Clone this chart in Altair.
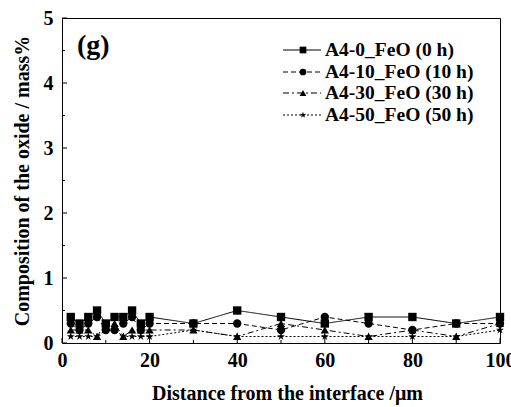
import altair as alt
import pandas as pd

# ---- data ----
distance = [2, 4, 6, 8, 10, 12, 14, 16, 18, 20, 30, 40, 50, 60, 70, 80, 90, 100]
series_names = ["A4-0_FeO (0 h)", "A4-10_FeO (10 h)", "A4-30_FeO (30 h)", "A4-50_FeO (50 h)"]
feo_0h = [0.4, 0.3, 0.4, 0.5, 0.3, 0.4, 0.4, 0.5, 0.3, 0.4, 0.3, 0.5, 0.4, 0.3, 0.4, 0.4, 0.3, 0.4]
feo_10h = [0.3, 0.2, 0.3, 0.4, 0.2, 0.2, 0.3, 0.4, 0.2, 0.3, 0.3, 0.3, 0.2, 0.4, 0.3, 0.2, 0.3, 0.3]
feo_30h = [0.2, 0.2, 0.2, 0.1, 0.3, 0.3, 0.1, 0.2, 0.2, 0.2, 0.2, 0.1, 0.3, 0.2, 0.1, 0.2, 0.1, 0.3]
feo_50h = [0.1, 0.1, 0.1, 0.1, 0.2, 0.2, 0.1, 0.1, 0.1, 0.1, 0.2, 0.1, 0.1, 0.1, 0.1, 0.1, 0.1, 0.2]
x_ticks_major = [0, 20, 40, 60, 80, 100]
x_ticks_minor = [10, 30, 50, 70, 90]
y_ticks_major = [0, 1, 2, 3, 4, 5]
y_ticks_minor = [0.5, 1.5, 2.5, 3.5, 4.5]
panel_label = "(g)"
x_title = "Distance from the interface /\u03bcm"
y_title = "Composition of the oxide / mass%"

# ---- styles ----
W, H = 438, 325
FONT = "Liberation Serif"
STAR = ("M0,-1L0.2245,-0.309L0.951,-0.309L0.363,0.118L0.588,0.809L0,0.382"
        "L-0.588,0.809L-0.363,0.118L-0.951,-0.309L-0.2245,-0.309Z")
shapes = ["square", "circle", "triangle-up", STAR]
dashes = [[1, 0], [5, 3], [6, 3, 2, 3], [2, 2]]

rows = []
for name, vals in zip(series_names, [feo_0h, feo_10h, feo_30h, feo_50h]):
    for d, v in zip(distance, vals):
        rows.append({"distance": d, "value": v, "series": name})
df = pd.DataFrame(rows)

xscale = alt.Scale(domain=[0, 100], nice=False, zero=False)
yscale = alt.Scale(domain=[0, 5], nice=False, zero=False)

xaxis = alt.Axis(values=x_ticks_major, ticks=False, domain=False, grid=False, format="d",
                 labelFont=FONT, labelFontSize=20, labelFontWeight="bold", labelColor="black",
                 labelPadding=7, labelFlush=False, title=x_title, titleFont=FONT,
                 titleFontSize=20, titleFontWeight="bold", titleColor="black", titlePadding=13,
                 titleX=225)
yaxis = alt.Axis(values=y_ticks_major, ticks=False, domain=False, grid=False, format="d",
                 labelFont=FONT, labelFontSize=20, labelFontWeight="bold", labelColor="black",
                 labelPadding=9, labelFlush=False, title=y_title, titleFont=FONT,
                 titleFontSize=20, titleFontWeight="bold", titleColor="black", titlePadding=11)

lines = alt.Chart(df).mark_line(color="black", strokeWidth=1).encode(
    x=alt.X("distance:Q", scale=xscale, axis=xaxis),
    y=alt.Y("value:Q", scale=yscale, axis=yaxis),
    strokeDash=alt.StrokeDash("series:N", scale=alt.Scale(domain=series_names, range=dashes), legend=None),
    detail="series:N",
)
points = alt.Chart(df).mark_point(filled=True, color="black", opacity=1, size=70).encode(
    x=alt.X("distance:Q", scale=xscale),
    y=alt.Y("value:Q", scale=yscale),
    shape=alt.Shape("series:N", scale=alt.Scale(domain=series_names, range=shapes), legend=None),
)

def xticks(vals, length):
    return alt.Chart(pd.DataFrame({"t": vals})).mark_rule(color="black", strokeWidth=1).encode(
        x=alt.X("t:Q", scale=xscale), y=alt.value(H), y2=alt.value(H - length))

def yticks(vals, length):
    return alt.Chart(pd.DataFrame({"t": vals})).mark_rule(color="black", strokeWidth=1).encode(
        y=alt.Y("t:Q", scale=yscale), x=alt.value(0), x2=alt.value(length))

label = alt.Chart(pd.DataFrame({"t": [panel_label]})).mark_text(
    font=FONT, fontSize=28, fontWeight="bold", align="left", baseline="middle", color="black"
).encode(x=alt.value(15), y=alt.value(28), text="t:N")

layers = [lines, points, xticks(x_ticks_major, 5), xticks(x_ticks_minor, 3),
          yticks(y_ticks_major, 5), yticks(y_ticks_minor, 3), label]

leg_y = [32, 54, 75, 97]
for i, name in enumerate(series_names):
    d1 = pd.DataFrame({"name": [name]})
    layers.append(alt.Chart(d1).mark_rule(color="black", strokeWidth=1, strokeDash=dashes[i]).encode(
        x=alt.value(221), x2=alt.value(259), y=alt.value(leg_y[i])))
    layers.append(alt.Chart(d1).mark_point(shape=shapes[i], filled=True, color="black", opacity=1, size=45).encode(
        x=alt.value(241), y=alt.value(leg_y[i])))
    layers.append(alt.Chart(d1).mark_text(font=FONT, fontSize=19.5, fontWeight="bold", align="left",
                                          baseline="middle", color="black").encode(
        x=alt.value(263), y=alt.value(leg_y[i]), text="name:N"))

chart = alt.layer(*layers).properties(
    width=W, height=H,
    autosize=alt.AutoSizeParams(type="none"),
    padding={"left": 62, "top": 18, "right": 11, "bottom": 64},
    background="white",
).configure_view(stroke="black", strokeWidth=1)

chart.save("out.html", embed_options={"renderer": "svg", "actions": False})
